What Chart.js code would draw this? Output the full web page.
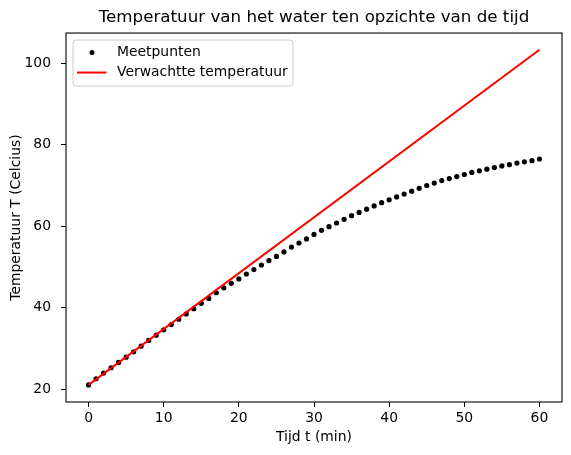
<!DOCTYPE html>
<html>
<head>
<meta charset="utf-8">
<script src="https://cdn.jsdelivr.net/npm/chart.js@4"></script>
<style>
  html, body { margin: 0; padding: 0; background: #fff; }
</style>
</head>
<body>
<canvas id="grafiek" width="571" height="455"></canvas>
<script>
// meetpunten
const tijden = [0,1,2,3,4,5,6,7,8,9,10,11,12,13,14,15,16,17,18,19,20,
  21,22,23,24,25,26,27,28,29,30,31,32,33,34,35,36,37,38,39,40,
  41,42,43,44,45,46,47,48,49,50,51,52,53,54,55,56,57,58,59,60];
const temperaturen = [21.1,22.6,24.0,25.3,26.6,27.9,29.2,30.6,32.0,33.3,34.6,
  35.9,37.2,38.5,39.8,41.1,42.3,43.7,44.9,46.0,47.1,
  48.3,49.4,50.5,51.6,52.6,53.7,54.9,55.9,56.9,58.0,
  59.0,59.9,60.8,61.7,62.6,63.4,64.2,65.0,65.8,66.5,
  67.2,67.9,68.6,69.3,70.0,70.6,71.2,71.7,72.2,72.7,
  73.2,73.6,74.0,74.4,74.8,75.1,75.5,75.8,76.1,76.5];

// verwachte temperatuur (rechte lijn)
const lijnTijden = [0, 60];
const lijnTemperaturen = [21.1, 103.3];

const xTicks = [0, 10, 20, 30, 40, 50, 60];
const yTicks = [20, 40, 60, 80, 100];

const FONT = "DejaVu Sans";
Chart.defaults.color = "#000";
Chart.defaults.font.family = FONT;

// kader rond de grafiek
const kader = {
  id: "kader",
  afterDraw(chart) {
    const { ctx, chartArea: a } = chart;
    ctx.save();
    ctx.strokeStyle = "#000";
    ctx.lineWidth = 1.1;
    ctx.strokeRect(a.left, a.top, a.right - a.left, a.bottom - a.top);
    ctx.restore();
  }
};

// legenda binnen het assenstelsel (linksboven)
const legenda = {
  id: "legenda",
  afterDraw(chart) {
    const { ctx, chartArea: a } = chart;
    const x = a.left + 7, y = a.top + 7, w = 220, h = 46, r = 3;
    ctx.save();
    ctx.beginPath();
    ctx.roundRect(x, y, w, h, r);
    ctx.fillStyle = "rgba(255,255,255,0.8)";
    ctx.fill();
    ctx.strokeStyle = "#cccccc";
    ctx.lineWidth = 1;
    ctx.stroke();

    ctx.fillStyle = "#000";
    ctx.beginPath();
    ctx.arc(x + 19, y + 12.5, 2.5, 0, Math.PI * 2);
    ctx.fill();

    ctx.strokeStyle = "#ff0000";
    ctx.lineWidth = 2;
    ctx.beginPath();
    ctx.moveTo(x + 4, y + 32.5);
    ctx.lineTo(x + 33.5, y + 32.5);
    ctx.stroke();

    ctx.fillStyle = "#000";
    ctx.font = "13.9px '" + FONT + "'";
    ctx.textBaseline = "middle";
    ctx.fillText("Meetpunten", x + 44, y + 12.5);
    ctx.fillText("Verwachtte temperatuur", x + 44, y + 32.5);
    ctx.restore();
  }
};

new Chart(document.getElementById("grafiek"), {
  type: "scatter",
  data: {
    datasets: [{
        label: "Verwachtte temperatuur",
        data: lijnTijden.map((t, i) => ({ x: t, y: lijnTemperaturen[i] })),
        showLine: true,
        borderColor: "#ff0000",
        borderWidth: 2,
        pointRadius: 0,
        fill: false,
        order: 0
      }, {
        label: "Meetpunten",
        data: tijden.map((t, i) => ({ x: t, y: temperaturen[i] })),
        backgroundColor: "#000",
        borderColor: "#000",
        borderWidth: 0,
        pointRadius: 2.6,
        order: 1
      }]
  },
  options: {
    responsive: false,
    animation: false,
    devicePixelRatio: 1,
    layout: { padding: { left: 0, right: 9, top: 0, bottom: 0 } },
    plugins: {
      legend: { display: false },
      tooltip: { enabled: false },
      title: {
        display: true,
        text: "Temperatuur van het water ten opzichte van de tijd",
        fullSize: false,
        color: "#000",
        font: { family: FONT, size: 16.7, weight: "normal" },
        padding: { top: 8, bottom: 5 }
      }
    },
    scales: {
      x: {
        type: "linear",
        min: -3,
        max: 63,
        afterBuildTicks: s => { s.ticks = xTicks.map(v => ({ value: v })); },
        afterFit: s => { s.height = 53; },
        border: { display: false },
        grid: { drawOnChartArea: false, drawTicks: true, tickLength: 5, tickColor: "#000", tickWidth: 1 },
        ticks: { font: { size: 13.9 }, padding: 3, maxRotation: 0 },
        title: { display: true, text: "Tijd t (min)", font: { size: 13.9 }, padding: { top: 0, bottom: 9 } }
      },
      y: {
        type: "linear",
        min: 16.9,
        max: 107.4,
        afterBuildTicks: s => { s.ticks = yTicks.map(v => ({ value: v })); },
        afterFit: s => { s.width = 66; },
        border: { display: false },
        grid: { drawOnChartArea: false, drawTicks: true, tickLength: 5, tickColor: "#000", tickWidth: 1 },
        ticks: { font: { size: 13.9 }, padding: 10 },
        title: { display: true, text: "Temperatuur T (Celcius)", font: { size: 13.9 }, padding: { top: 8, bottom: 0 } }
      }
    }
  },
  plugins: [kader, legenda]
});
</script>
</body>
</html>
